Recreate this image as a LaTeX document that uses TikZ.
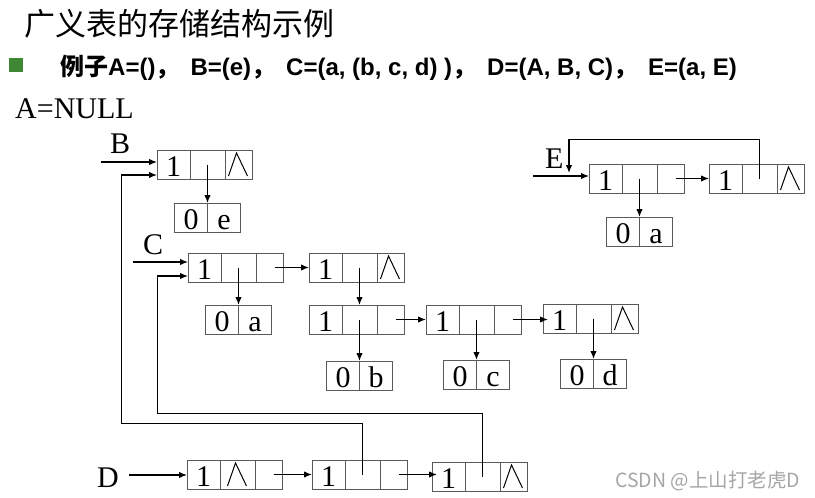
\documentclass[tikz,border=0pt]{standalone}
\usepackage{fontspec}
\setmainfont{Liberation Serif}
\newfontfamily\cjk{Noto Sans CJK SC}
\newfontfamily\arial{Liberation Sans}
\usetikzlibrary{arrows.meta}
\definecolor{boxgray}{HTML}{5A5A5A}
\definecolor{bulletgreen}{RGB}{62,136,52}
\definecolor{wmgray}{HTML}{A6A6A6}
\tikzset{
  cellbase/.style={draw=boxgray, line width=1pt, minimum height=29pt, inner sep=0pt, outer sep=0pt,
    anchor=north west, font=\fontsize{30}{32}\selectfont, text height=24pt, text depth=0pt},
  cellT/.style={cellbase, minimum width=33pt},
  cellH/.style={cellbase, minimum width=35pt},
  cellN/.style={cellbase, minimum width=27pt},
  cellS/.style={cellbase, minimum width=33pt},
  blank/.style={},
  nilmark/.style={path picture={\draw[line width=1pt,black]
      ([xshift=-10pt,yshift=3pt]path picture bounding box.south)
      -- ([xshift=-2pt,yshift=-3pt]path picture bounding box.north)
      -- ([xshift=9pt,yshift=3pt]path picture bounding box.south);}},
  arr/.style={line width=1.3pt, -{Latex[length=8pt,width=6.5pt]}},
  lnk/.style={line width=1pt},
  lbl/.style={anchor=base west, inner sep=0pt, font=\fontsize{30}{32}\selectfont},
}
\newcommand\lnode[6]{%
  \node[cellT] (#1t) at (#2,#3) {#4};
  \node[cellH,#5] (#1h) at (#1t.north east) {};
  \node[cellN,#6] (#1n) at (#1h.north east) {};}
\newcommand\anode[4]{%
  \node[cellS, anchor=north east] (#1a) at (#2,#3) {0};
  \node[cellS] (#1b) at (#1a.north east) {#4};}
\newcommand\cm{{\cjk\bfseries ，}\hspace{11pt}}
\begin{document}
\begin{tikzpicture}[x=1pt,y=-1pt]
\useasboundingbox (0,0) rectangle (815,498);
% headings
\node[anchor=base west, inner sep=0pt] (title) at (24,35) {\cjk\fontsize{31}{33}\selectfont 广义表的存储结构示例};
\node[fill=bulletgreen, minimum width=14pt, minimum height=14pt, inner sep=0pt, anchor=north west] (bullet) at (9,58) {};
\node[anchor=base west, inner sep=0pt] (example) at (60,75) {\fontsize{24}{26}\selectfont{\cjk\bfseries 例子}\arial\bfseries A=()\cm B=(e)\cm C=(a, (b, c, d) )\cm D=(A, B, C)\cm E=(a, E)};
\node[lbl] (anull) at (15,118) {A=NULL};
% list nodes
\lnode{B}{157}{150}{1}{blank}{nilmark}
\anode{Be}{207.5}{203}{e}
\lnode{Ca}{188}{253}{1}{blank}{blank}
\anode{Cs}{238.5}{305}{a}
\lnode{Cb}{309}{253}{1}{blank}{nilmark}
\lnode{Cc}{309}{305}{1}{blank}{blank}
\anode{Cx}{359.5}{361}{b}
\lnode{Cd}{426}{305}{1}{blank}{blank}
\anode{Cy}{476.5}{360}{c}
\lnode{Ce}{543}{304}{1}{blank}{nilmark}
\anode{Cz}{593.5}{359}{d}
\lnode{Ea}{589}{164}{1}{blank}{blank}
\anode{Es}{639.5}{217}{a}
\lnode{Eb}{709}{164}{1}{blank}{nilmark}
\lnode{Da}{187}{460}{1}{nilmark}{blank}
\lnode{Db}{312}{460}{1}{blank}{blank}
\lnode{Dc}{432}{462}{1}{blank}{nilmark}
% labels
\node[lbl] (labB) at (110,153) {B};
\node[lbl] (labC) at (143,254) {C};
\node[lbl] (labD) at (97,487) {D};
\node[lbl] (labE) at (545,168) {E};
% free ends
\coordinate (Bin) at (101,162);
\coordinate (Cin) at (133,262);
\coordinate (Din) at (129,475);
\coordinate (Ein) at (533,176);
\coordinate (BB) at (121,175);
\coordinate (DBk) at (121,423);
\coordinate (CC) at (157,276);
\coordinate (DCk) at (157,413);
\coordinate (Ek) at (569,139);
\coordinate (Ed) at (569,173);
% entry arrows
\draw[arr] (Bin) -- (Bin -| Bt.west);
\draw[arr] (Cin) -- (Cin -| Cat.west);
\draw[arr] (Din) -- (Din -| Dat.west);
\draw[arr] (Ein) -- (Ein -| Eat.west);
% sublist arrows
\draw[arr] (Bh.center) -- (Bea.north east);
\draw[arr] (Cah.center) -- (Csa.north east);
\draw[arr] (Cbh.center) -- (Cch.north);
\draw[arr] (Cch.center) -- (Cxa.north east);
\draw[arr] (Cdh.center) -- (Cya.north east);
\draw[arr] (Ceh.center) -- (Cza.north east);
\draw[arr] (Eah.center) -- (Esa.north east);
% next arrows
\draw[arr] ([xshift=5pt]Can.center) -- (Cbt.west);
\draw[arr] ([xshift=5pt]Ccn.center) -- (Cdt.west);
\draw[arr] ([xshift=5pt]Cdn.center) -- ([xshift=5pt]Cdn.center -| Cet.west);
\draw[arr] ([xshift=5pt]Ean.center) -- (Ebt.west);
\draw[arr] ([xshift=5pt]Dan.center) -- (Dbt.west);
\draw[arr] ([xshift=5pt]Dbn.center) -- ([xshift=5pt]Dbn.center -| Dct.west);
% shared sublist links
\draw[lnk] (Dbh.center) |- (DBk) -- (BB);
\draw[arr] (BB) -- (BB -| Bt.west);
\draw[lnk] (Dch.center) |- (DCk) -- (CC);
\draw[arr] (CC) -- (CC -| Cat.west);
\draw[lnk] (Ebh.center) |- (Ek);
\draw[arr] (Ek) -- (Ed);
% watermark
\node[anchor=base west, inner sep=0pt, text=wmgray] (wm) at (615,487) {\cjk\fontsize{19.5}{21}\selectfont CSDN @上山打老虎D};
\end{tikzpicture}
\end{document}
